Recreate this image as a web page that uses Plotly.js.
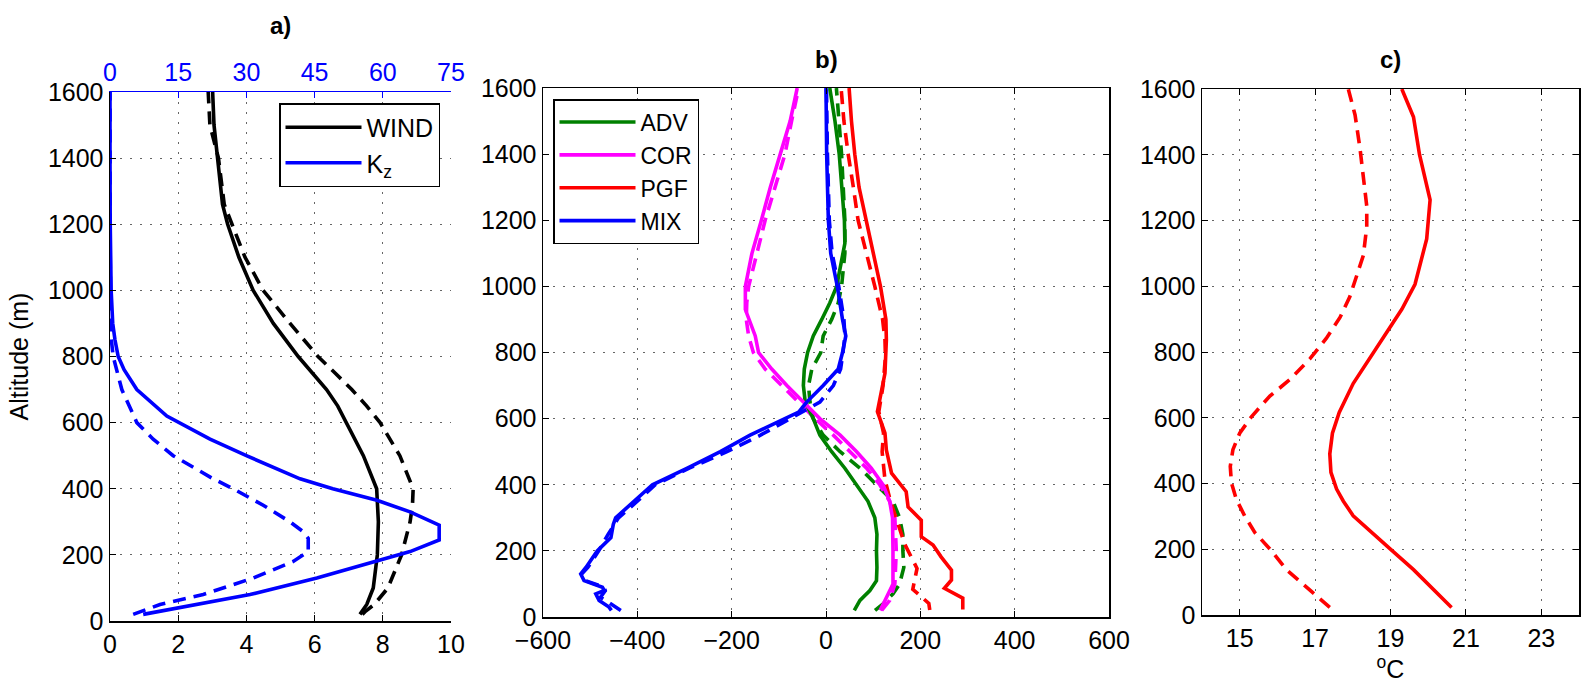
<!DOCTYPE html>
<html>
<head>
<meta charset="utf-8">
<script src="https://cdn.plot.ly/plotly-3.0.1.min.js"></script>
<style>html,body{margin:0;padding:0;background:#fff;}#chart{width:1581px;height:690px;}</style>
</head>
<body>
<div id="chart"></div>
<script>
// ---------- Panel a: WIND (bottom axis, m/s) and Kz (top axis) ----------
const altWindSolid = [20, 50, 100, 200, 300, 400, 500, 600, 650, 700, 750, 800, 900, 1000, 1100, 1200, 1260, 1400, 1500, 1600];
const windSolid    = [7.33, 7.53, 7.72, 7.84, 7.87, 7.82, 7.43, 6.94, 6.68, 6.35, 5.93, 5.52, 4.79, 4.2, 3.78, 3.45, 3.3, 3.15, 3.05, 3.01];
const altWindDash  = [20, 30, 50, 100, 200, 300, 350, 400, 500, 600, 650, 700, 750, 800, 900, 1000, 1100, 1200, 1260, 1400, 1500, 1600];
const windDash     = [7.4, 7.5, 7.75, 8.15, 8.55, 8.8, 8.87, 8.89, 8.5, 7.92, 7.53, 7.09, 6.6, 6.1, 5.28, 4.49, 3.96, 3.57, 3.35, 3.18, 2.93, 2.88];

const altKzSolid = [20, 55, 80, 130, 180, 210, 245, 290, 330, 365, 400, 430, 500, 550, 620, 700, 760, 800, 850, 900, 1000, 1100, 1200, 1400, 1600];
const kzSolid    = [7.3, 21.3, 30.8, 45.5, 57.9, 66, 72.4, 72.4, 66, 58.7, 49, 41.8, 30, 22, 12.5, 5.9, 3.1, 1.8, 1.1, 0.6, 0.25, 0.12, 0.05, 0, 0];
const altKzDash  = [20, 50, 80, 130, 180, 210, 250, 270, 300, 350, 400, 430, 500, 550, 600, 700, 800, 850, 900, 1000, 1200, 1600];
const kzDash     = [5.1, 11, 20.5, 31.5, 40.3, 43.6, 43.6, 42.5, 39.6, 33.7, 27.1, 22.7, 13.9, 9.5, 5.9, 2.6, 0.7, 0.3, 0.15, 0.05, 0, 0];

// ---------- Panel b: momentum budget terms ----------
const altAdvSolid = [20, 50, 80, 110, 150, 200, 250, 300, 350, 400, 450, 500, 550, 600, 650, 700, 750, 800, 850, 900, 950, 1000, 1100, 1130, 1200, 1300, 1400, 1500, 1600];
const advSolid    = [60, 72, 93, 107, 108, 107, 108, 103.5, 89, 65, 40, 12, -13, -27, -44, -48, -46, -39, -27, -9, 8, 22.5, 35, 40, 39, 34, 28, 19, 8];
const altAdvDash  = [20, 40, 70, 100, 150, 200, 250, 300, 350, 400, 450, 500, 550, 600, 650, 700, 750, 800, 850, 900, 950, 1000, 1100, 1200, 1400, 1600];
const advDash     = [104, 121, 142, 156, 165, 163, 163, 156, 142, 107, 72, 30, -6, -27, -34, -37, -30, -11, -6, 12, 26, 33, 40, 40, 33, 22];

const altCorSolid = [20, 40, 70, 100, 200, 300, 350, 400, 450, 500, 550, 600, 650, 700, 750, 800, 850, 900, 930, 1000, 1100, 1200, 1300, 1400, 1500, 1600];
const corSolid    = [115, 122, 132, 142, 142, 141, 135, 121, 96, 65, 30, -13, -48, -83, -115, -143, -150, -164, -171, -171, -157, -137, -118, -97, -76, -61];
const altCorDash  = [20, 50, 100, 200, 300, 350, 400, 450, 500, 550, 600, 650, 700, 750, 800, 850, 900, 950, 1000, 1100, 1200, 1300, 1400, 1500, 1600];
const corDash     = [118, 135, 146, 149, 146, 135, 114, 86, 51, 15.5, -23, -58, -94, -129, -154, -164, -169, -168, -164, -146, -129, -108, -87, -73, -58];

const altPgfSolid = [23, 57, 87, 112, 142, 182, 218, 243, 293, 333, 379, 435, 505, 556, 621, 737, 838, 900, 1000, 1100, 1200, 1260, 1300, 1400, 1500, 1600];
const pgfSolid    = [290, 290, 251, 266, 266, 244, 227, 202, 202, 174, 170, 139, 128, 125, 109, 125, 128, 127, 115.5, 100, 84.5, 75, 70, 61, 54, 49];
const altPgfDash  = [21, 41, 84, 147, 220, 278, 349, 415, 500, 556, 621, 700, 787, 838, 900, 1000, 1100, 1200, 1300, 1400, 1500, 1600];
const pgfDash     = [220, 218, 184, 193, 167, 153, 137, 125, 119, 122, 112, 121, 126, 125, 120, 103.5, 86, 68, 58, 47, 38, 32];

const altMixSolid = [20, 30, 50, 70, 80, 90, 110, 130, 150, 200, 240, 280, 300, 350, 400, 450, 500, 550, 600, 620, 650, 700, 750, 800, 850, 900, 1000, 1100, 1200, 1400, 1600];
const mixSolid    = [-455, -460, -481, -488, -470, -474, -513, -520, -509, -485, -456, -451, -446, -407, -368, -294, -224, -161, -90, -58, -41, -6, 26, 35, 42, 35, 24, 10, 5, 1.4, 0];
const altMixDash  = [20, 40, 60, 80, 90, 110, 130, 150, 200, 250, 300, 350, 400, 450, 500, 550, 600, 620, 650, 700, 750, 800, 850, 900, 1000, 1100, 1200, 1400, 1600];
const mixDash     = [-435, -455, -478, -468, -470, -510, -518, -505, -482, -462, -440, -400, -362, -290, -210, -139, -76, -48, -13, 15.6, 31, 36, 40, 38, 27, 13, 7, 3, 1];

// ---------- Panel c: temperature (°C) ----------
const altTSolid = [23, 138, 201, 264, 302, 346, 383, 434, 490, 553, 616, 704, 830, 930, 1006, 1144, 1263, 1400, 1515, 1600];
const tSolid    = [20.62, 19.61, 18.99, 18.37, 18.01, 17.75, 17.57, 17.42, 17.39, 17.46, 17.64, 18.01, 18.72, 19.30, 19.65, 19.96, 20.05, 19.77, 19.61, 19.30];
const altTDash  = [23, 75, 138, 201, 251, 302, 352, 402, 452, 503, 553, 603, 666, 716, 779, 842, 905, 968, 1031, 1094, 1181, 1244, 1332, 1420, 1521, 1600];
const tDash     = [17.39, 16.86, 16.24, 15.80, 15.40, 15.13, 14.91, 14.78, 14.75, 14.82, 15.0, 15.31, 15.80, 16.33, 16.86, 17.30, 17.66, 17.92, 18.10, 18.28, 18.37, 18.37, 18.28, 18.19, 18.06, 17.88];

// tick labels
const yTicks = [0, 200, 400, 600, 800, 1000, 1200, 1400, 1600];
const xTicksA = [0, 2, 4, 6, 8, 10];
const xTicksKz = [0, 15, 30, 45, 60, 75];
const xTicksB = [-600, -400, -200, 0, 200, 400, 600];
const xTicksC = [15, 17, 19, 21, 23];

const FONT = 'Liberation Sans, Arial, Helvetica, sans-serif';
const LW = 3.6;
const DASH = '13px,8px';
const GREEN = '#008000', MAG = '#ff00ff', RED = '#ff0000', BLUE = '#0000ff';

function tr(x, y, color, dash, xa, ya, name, legend) {
  return {
    x: x, y: y, type: 'scatter', mode: 'lines',
    xaxis: xa, yaxis: ya,
    line: {color: color, width: LW, dash: dash ? DASH : 'solid'},
    name: name || '', showlegend: !!name && !dash, legend: legend || 'legend',
    hoverinfo: 'skip'
  };
}

const data = [
  tr(windDash, altWindDash, '#000', true, 'x', 'y'),
  tr(kzDash, altKzDash, BLUE, true, 'x2', 'y'),
  tr(windSolid, altWindSolid, '#000', false, 'x', 'y', 'WIND', 'legend'),
  tr(kzSolid, altKzSolid, BLUE, false, 'x2', 'y', 'K<sub>z</sub>', 'legend'),

  tr(advDash, altAdvDash, GREEN, true, 'x3', 'y3'),
  tr(corDash, altCorDash, MAG, true, 'x3', 'y3'),
  tr(pgfDash, altPgfDash, RED, true, 'x3', 'y3'),
  tr(mixDash, altMixDash, BLUE, true, 'x3', 'y3'),
  tr(advSolid, altAdvSolid, GREEN, false, 'x3', 'y3', 'ADV', 'legend2'),
  tr(corSolid, altCorSolid, MAG, false, 'x3', 'y3', 'COR', 'legend2'),
  tr(pgfSolid, altPgfSolid, RED, false, 'x3', 'y3', 'PGF', 'legend2'),
  tr(mixSolid, altMixSolid, BLUE, false, 'x3', 'y3', 'MIX', 'legend2'),

  tr(tDash, altTDash, RED, true, 'x4', 'y4'),
  tr(tSolid, altTSolid, RED, false, 'x4', 'y4')
];

const tickFont = {family: FONT, size: 25, color: '#000'};
const gridStyle = {showgrid: true, gridcolor: '#666', gridwidth: 1, griddash: '2px,8px'};

function baseAxis(extra) {
  return Object.assign({
    showline: true, linecolor: '#000', linewidth: 1.5,
    ticks: 'inside', ticklen: 6, tickcolor: '#000', tickwidth: 1,
    zeroline: false, tickfont: tickFont, automargin: false, fixedrange: true
  }, gridStyle, extra);
}

const W = 1581, H = 690;
const px = v => v / W, py = v => 1 - v / H;

const legendStyle = {xanchor: 'left', yanchor: 'top', bgcolor: '#fff',
  bordercolor: '#000', borderwidth: 1.5, font: {family: FONT, size: 25}, itemwidth: 76, tracegroupgap: 0};

const layout = {
  width: W, height: H,
  margin: {l: 0, r: 0, t: 0, b: 0},
  paper_bgcolor: '#fff', plot_bgcolor: '#fff',
  font: {family: FONT, size: 25, color: '#000'},
  // Panel a
  xaxis: baseAxis({domain: [px(110), px(451)], anchor: 'y', range: [0, 10], tickvals: xTicksA}),
  xaxis2: baseAxis({overlaying: 'x', side: 'top', anchor: 'y', range: [0, 75], tickvals: xTicksKz,
    linecolor: BLUE, tickcolor: BLUE, tickfont: {family: FONT, size: 25, color: BLUE}, showgrid: false}),
  yaxis: baseAxis({domain: [py(621), py(92)], anchor: 'x', range: [0, 1600], tickvals: yTicks,
    title: {text: 'Altitude (m)', font: {family: FONT, size: 25}, standoff: 12}}),
  yaxis2: baseAxis({overlaying: 'y', side: 'right', anchor: 'x', range: [0, 1600], tickvals: yTicks,
    linecolor: BLUE, tickcolor: BLUE, showticklabels: false, showgrid: false}),
  // Panel b
  xaxis3: baseAxis({domain: [px(543), px(1109)], anchor: 'y3', range: [-600, 600], tickvals: xTicksB, mirror: 'ticks'}),
  yaxis3: baseAxis({domain: [py(617), py(88)], anchor: 'x3', range: [0, 1600], tickvals: yTicks, mirror: 'ticks'}),
  // Panel c
  xaxis4: baseAxis({domain: [px(1202), px(1579)], anchor: 'y4', range: [14, 24], tickvals: xTicksC, mirror: 'ticks',
    title: {text: '<sup>o</sup>C', font: {family: FONT, size: 25}, standoff: 2}}),
  yaxis4: baseAxis({domain: [py(615), py(89)], anchor: 'x4', range: [0, 1600], tickvals: yTicks, mirror: 'ticks'}),

  legend: Object.assign({x: px(279), y: py(103)}, legendStyle),
  legend2: Object.assign({x: px(553), y: py(99)}, legendStyle, {font: {family: FONT, size: 23}}),

  annotations: [
    {text: '<b>a)</b>', x: px(280), y: py(25), xref: 'paper', yref: 'paper', showarrow: false, xanchor: 'center', yanchor: 'middle', font: {family: FONT, size: 24}},
    {text: '<b>b)</b>', x: px(826), y: py(60), xref: 'paper', yref: 'paper', showarrow: false, xanchor: 'center', yanchor: 'middle', font: {family: FONT, size: 24}},
    {text: '<b>c)</b>', x: px(1390), y: py(59), xref: 'paper', yref: 'paper', showarrow: false, xanchor: 'center', yanchor: 'middle', font: {family: FONT, size: 24}}
  ]
};

Plotly.newPlot('chart', data, layout, {staticPlot: true, displayModeBar: false});
</script>
</body>
</html>
